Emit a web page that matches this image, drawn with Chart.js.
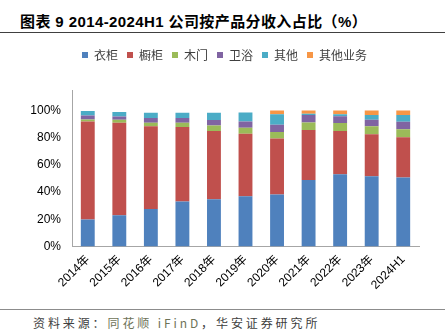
<!DOCTYPE html>
<html>
<head>
<meta charset="utf-8">
<script src="https://cdn.jsdelivr.net/npm/chart.js@4"></script>
<style>
    body { margin: 0; width: 445px; height: 332px; background: #fff; position: relative; overflow: hidden; font-family: "Liberation Sans", "Noto Sans CJK SC", sans-serif; }
    #title { position: absolute; left: 20px; top: 10px; font-size: 15px; font-weight: bold; color: #000; white-space: nowrap; letter-spacing: 0.4px; }
    #line1 { position: absolute; left: 0; top: 32px; width: 445px; height: 1px; background: #404040; }
    #box { position: absolute; left: 0; top: 40px; width: 445px; height: 265px; }
    #line2 { position: absolute; left: 0; top: 309px; width: 445px; height: 1px; background: #8c8c8c; }
    #source { position: absolute; left: 33px; top: 314px; font-size: 12px; letter-spacing: 2.9px; color: #404040; white-space: nowrap; font-family: "Noto Sans CJK SC", sans-serif; }
    #source span { color: #6e7358; }
</style>
</head>
<body>
<div id="title">图表 9 2014-2024H1 公司按产品分收入占比（%）</div>
<div id="line1"></div>
<div id="box"><canvas id="Chart1" width="445" height="265"></canvas></div>
<div id="line2"></div>
<div id="source">资料来源：<span>同花顺 iFinD</span>，华安证券研究所</div>

<script>
// categories
let years = ['2014年', '2015年', '2016年', '2017年', '2018年', '2019年', '2020年', '2021年', '2022年', '2023年', '2024H1'];

// shares in %
let wardrobe = [19.9, 22.9, 27.5, 33.1, 34.8, 37.0, 38.2, 48.9, 53.1, 51.6, 50.7];
let cabinet  = [72.0, 68.1, 60.8, 54.7, 50.0, 45.8, 41.1, 36.7, 31.7, 30.8, 29.5];
let door     = [1.5, 2.2, 2.7, 3.2, 4.2, 4.4, 4.9, 5.6, 5.9, 5.9, 5.9];
let bath     = [2.9, 2.4, 3.4, 3.4, 3.9, 4.7, 5.3, 5.4, 5.1, 4.9, 5.6];
let other    = [3.2, 3.2, 3.9, 3.9, 5.4, 6.6, 7.6, 1.0, 1.3, 3.4, 4.9];
let otherBiz = [0, 0, 0, 0, 0, 0, 2.9, 2.4, 2.9, 3.4, 3.4];

let names = ['衣柜', '橱柜', '木门', '卫浴', '其他', '其他业务'];
let colors = ['#4F81BD', '#C0504D', '#9BBB59', '#8064A2', '#4BACC6', '#F79646'];
let series = [wardrobe, cabinet, door, bath, other, otherBiz];

let yTicks = [0, 20, 40, 60, 80, 100];

let datasets = series.map(function (s, i) {
    return {
        label: names[i],
        data: s,
        backgroundColor: colors[i],
        borderWidth: 0,
        barPercentage: 0.44,
        categoryPercentage: 1.0,
    };
});

// push the plot area down below the legend
let legendGap = {
    id: 'legendGap',
    beforeInit(chart) {
        let fit = chart.legend.fit;
        chart.legend.fit = function () {
            fit.bind(chart.legend)();
            this.height += 19;
        };
    }
};

let config = {
    type: 'bar',
    data: { labels: years, datasets: datasets },
    plugins: [legendGap],
    options: {
        responsive: false,
        animation: false,
        layout: { padding: { left: 30, right: 26, top: 0, bottom: 0 } },
        plugins: {
            legend: {
                position: 'top',
                labels: {
                    boxWidth: 6,
                    boxHeight: 6,
                    padding: 9,
                    color: '#404040',
                    font: { size: 12, family: '"Noto Sans CJK SC", sans-serif' },
                },
            },
            tooltip: { enabled: false },
        },
        scales: {
            x: {
                stacked: true,
                grid: { display: false, drawTicks: false },
                border: { display: true, color: '#A6A6A6', width: 1 },
                ticks: {
                    color: '#000',
                    minRotation: 45,
                    maxRotation: 45,
                    padding: 6,
                    font: { size: 12, family: '"Liberation Sans", "Noto Sans CJK SC", sans-serif' },
                },
                afterFit(scale) { scale.height = 58.5; },
            },
            y: {
                stacked: true,
                min: 0,
                max: 115,
                grid: { display: false, drawTicks: false },
                border: { display: true, color: '#A6A6A6', width: 1 },
                ticks: {
                    stepSize: 20,
                    padding: 11,
                    color: '#000',
                    font: { size: 12, family: '"Liberation Sans", sans-serif' },
                    callback: function (v) { return v + '%'; },
                },
                afterBuildTicks(scale) {
                    scale.ticks = yTicks.map(function (v) { return { value: v }; });
                },
                afterFit(scale) { scale.width = 42; },
            },
        },
    },
};

let ctx = document.getElementById('Chart1');
let myChart = new Chart(ctx, config);
</script>
</body>
</html>
